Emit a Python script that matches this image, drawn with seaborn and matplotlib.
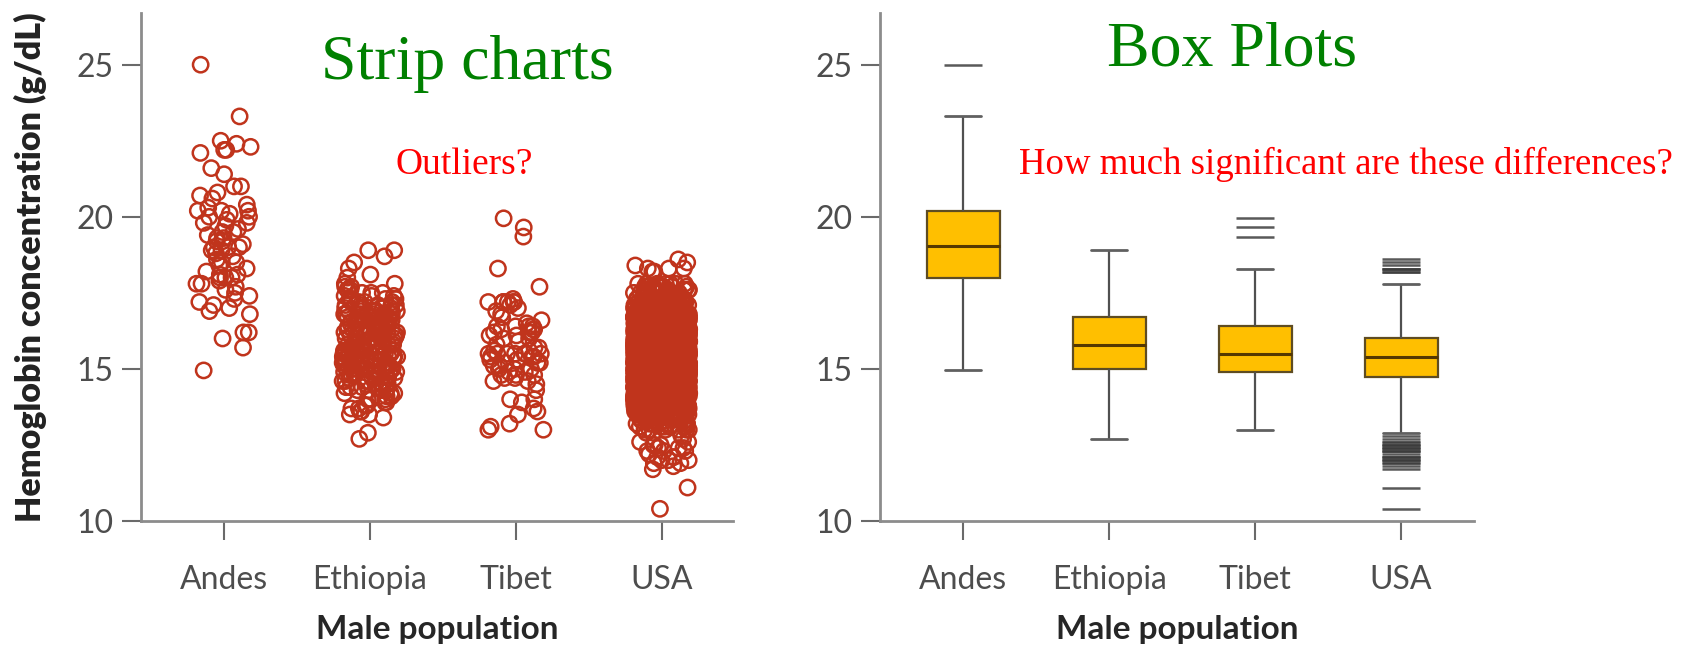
import numpy as np
import pandas as pd
import matplotlib
matplotlib.use("Agg")
import matplotlib.pyplot as plt
import seaborn as sns

# ---------------- data ----------------
categories = ["Andes", "Ethiopia", "Tibet", "USA"]
y_ticks = [10, 15, 20, 25]

andes_values = [
    25.0, 23.3, 22.5, 22.4, 22.3, 22.2, 22.2, 22.1, 21.6, 21.4, 21.0, 21.0, 20.8, 20.7, 20.6, 20.4, 20.3, 20.2,
    20.2, 20.2, 20.1, 20.0, 20.0, 19.9, 19.8, 19.8, 19.7, 19.6, 19.5, 19.5, 19.4, 19.3, 19.3, 19.2, 19.2, 19.1,
    19.0, 19.0, 19.0, 18.9, 18.9, 18.8, 18.7, 18.6, 18.5, 18.5, 18.4, 18.3, 18.2, 18.1, 18.1, 18.0, 18.0, 18.0,
    17.9, 17.8, 17.8, 17.7, 17.6, 17.5, 17.4, 17.3, 17.2, 17.1, 17.0, 16.9, 16.8, 16.2, 16.2, 16.0, 15.7, 14.95,
]

ethiopia_values = [
    12.7, 12.9, 13.4, 13.5, 13.6, 13.7, 13.8, 13.9,
    14.0, 14.1, 14.2, 14.3, 14.4, 14.5, 14.6, 14.7, 14.8, 14.9,
    15.0, 15.1, 15.2, 15.3, 15.4, 15.5, 15.6, 15.7, 15.8, 15.9, 16.0, 16.1,
    16.2, 16.3, 16.4, 16.5, 16.6, 16.7,
    16.8, 16.9, 17.0, 17.1,
    17.2, 17.3, 17.4, 17.5, 17.6, 17.7, 17.8,
    18.0, 18.1, 18.3, 18.5, 18.7, 18.9,
]
ethiopia_counts = [
    1, 1, 1, 2, 2, 2, 2, 2,
    3, 3, 3, 4, 4, 5, 5, 5, 6, 6,
    7, 7, 7, 7, 7, 7, 7, 7, 7, 7, 7, 7,
    6, 6, 6, 6, 6, 6,
    7, 6, 6, 6,
    4, 4, 3, 3, 3, 2, 2,
    1, 1, 1, 1, 1, 2,
]

tibet_values = [
    13.0, 13.0, 13.1, 13.2, 13.5, 13.6, 13.7, 13.9, 14.0, 14.0, 14.3, 14.5, 14.6, 14.6, 14.7, 14.7, 14.8, 14.8, 14.8, 14.9,
    14.9, 15.0, 15.0, 15.0, 15.1, 15.1, 15.2, 15.2, 15.2, 15.3, 15.3, 15.4, 15.4, 15.4, 15.5, 15.5, 15.5, 15.5, 15.5, 15.5,
    15.5, 15.6, 15.6, 15.7, 15.7, 15.8, 15.9, 16.0, 16.0, 16.1, 16.1, 16.2, 16.2, 16.2, 16.3, 16.3, 16.3, 16.4, 16.4, 16.4,
    16.4, 16.5, 16.6, 16.7, 16.8, 16.9, 17.0, 17.1, 17.2, 17.2, 17.2, 17.2, 17.2, 17.2, 17.3, 17.7, 18.3, 19.35, 19.65, 19.95,
]

usa_values = [
    10.4, 11.1, 11.7, 11.8, 11.9, 12.0, 12.1, 12.2, 12.3, 12.4, 12.5, 12.6, 12.7, 12.8, 12.9,
    13.0, 13.1, 13.2, 13.3, 13.4, 13.5, 13.6,
    13.7, 13.8, 13.9, 14.0, 14.1, 14.2, 14.3, 14.4, 14.5, 14.6,
    14.7, 14.8, 14.9, 15.0, 15.1, 15.2, 15.3,
    15.4,
    15.5, 15.6, 15.7, 15.8, 15.9, 16.0, 16.1, 16.2, 16.3, 16.4, 16.5, 16.6,
    16.7, 16.8, 16.9, 17.0, 17.1, 17.2, 17.3, 17.4, 17.5, 17.6, 17.7, 17.8,
    18.2, 18.3, 18.4, 18.5, 18.6,
]
usa_counts = [
    1, 1, 1, 1, 2, 3, 3, 1, 3, 3, 3, 2, 1, 1, 2,
    6, 8, 10, 12, 14, 16, 19,
    25, 30, 36, 43, 50, 58, 66, 75, 84, 93,
    98, 106, 114, 120, 126, 130, 132,
    133,
    132, 130, 126, 120, 114, 106, 98, 90, 81, 72, 63, 55,
    47, 40, 33, 27, 22, 19, 16, 14, 12, 10, 9, 7,
    2, 3, 1, 1, 1,
]

# ---------------- table ----------------
groups = {
    "Andes": np.array(andes_values),
    "Ethiopia": np.repeat(ethiopia_values, ethiopia_counts),
    "Tibet": np.array(tibet_values),
    "USA": np.repeat(usa_values, usa_counts),
}
df = pd.concat(
    [pd.DataFrame({"population": k, "hemoglobin": v}) for k, v in groups.items()],
    ignore_index=True,
)

# ---------------- style ----------------
sns.set_style("ticks")
plt.rcParams["font.family"] = ["Lato", "DejaVu Sans"]

RED = "#c0341c"
GOLD = "#ffbf00"
SPINE = "#8c8c8c"
TICKLAB = "#4d4d4d"

W, H = 1685, 654
fig = plt.figure(figsize=(W / 100, H / 100), dpi=100)
ax1 = fig.add_axes([141 / W, 1 - 521 / H, 592 / W, 508 / H])
ax2 = fig.add_axes([880 / W, 1 - 521 / H, 594 / W, 508 / H])

# strip chart
np.random.seed(7)
sns.stripplot(
    data=df, x="population", y="hemoglobin", order=categories, ax=ax1,
    jitter=0.19, size=11, color=RED, edgecolor=RED, linewidth=1.8,
)
for coll in ax1.collections:
    coll.set_facecolor("none")
    coll.set_edgecolor(RED)
    coll.set_clip_on(False)

# box plot
sns.boxplot(
    data=df, x="population", y="hemoglobin", order=categories, ax=ax2,
    width=0.5, color=GOLD, saturation=1, linecolor="#5e4c22", linewidth=1.6,
    whiskerprops=dict(color="#505050", linewidth=1.6),
    capprops=dict(color="#606060", linewidth=2.0),
    medianprops=dict(color="#553800", linewidth=2.2),
    flierprops=dict(marker="_", markersize=28, markeredgecolor="#3c3c3c",
                    markeredgewidth=1.8, alpha=0.85),
)

for ax, xr in ((ax1, 3.49), (ax2, 3.5)):
    ax.set_xlim(-0.57, xr)
    ax.set_ylim(10, 26.7)
    ax.set_yticks(y_ticks)
    ax.spines[["top", "right"]].set_visible(False)
    for s in ("left", "bottom"):
        ax.spines[s].set_color(SPINE)
        ax.spines[s].set_linewidth(2.0)
    ax.tick_params(axis="both", direction="out", length=14, width=1.5,
                   color="#6a6a6a", labelcolor=TICKLAB, labelsize=23)
    ax.tick_params(axis="x", pad=18)
    ax.tick_params(axis="y", pad=6)
    ax.set_xlabel("Male population", fontsize=24, fontweight="bold",
                  color="#262626", labelpad=14)

ax1.set_ylabel("Hemoglobin concentration (g/dL)", fontsize=24.5, fontweight="heavy",
               color="#222222", labelpad=21)
ax2.set_ylabel("")

# titles / annotations
serif = ["Liberation Serif", "DejaVu Serif"]
fig.text(467 / W, 1 - 79 / H, "Strip charts", family=serif, fontsize=46,
         color="#008000", ha="center", va="baseline")
fig.text(464 / W, 1 - 174 / H, "Outliers?", family=serif, fontsize=27,
         color="#ff0000", ha="center", va="baseline")
fig.text(1232 / W, 1 - 65 / H, "Box Plots", family=serif, fontsize=46,
         color="#008000", ha="center", va="baseline")
fig.text(1346 / W, 1 - 174 / H, "How much significant are these differences?",
         family=serif, fontsize=26.5, color="#ff0000", ha="center", va="baseline")

fig.savefig("out.png", dpi=100)
